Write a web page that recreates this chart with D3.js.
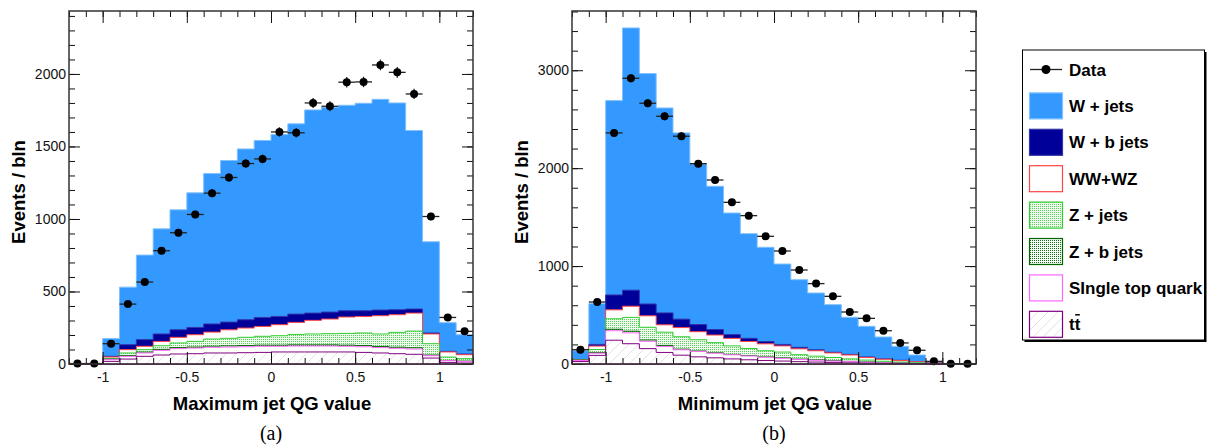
<!DOCTYPE html>
<html lang="en">
<head>
<meta charset="UTF-8">
<title>Jet QG value distributions</title>
<script src="https://d3js.org/d3.v7.min.js"></script>
<style>
  body { margin: 0; background: #fff; }
  svg { display: block; font-family: "Liberation Sans", Arial, Helvetica, sans-serif; }
  .tick text { font-size: 14px; fill: #111; }
  .tick line { stroke: #111; stroke-width: 1; }
  .title { font-weight: bold; font-size: 18.5px; fill: #000; }
  .caption { font-family: "Liberation Serif", "Times New Roman", serif; font-size: 20px; fill: #000; }
  .leg text { font-weight: bold; font-size: 17px; fill: #000; }
</style>
</head>
<body>
<svg id="chart" width="1211" height="446"></svg>
<script>
// bin lower edges, bin width 0.1
const binLow = [-1.2, -1.1, -1.0, -0.9, -0.8, -0.7, -0.6, -0.5, -0.4, -0.3, -0.2, -0.1,
                0.0, 0.1, 0.2, 0.3, 0.4, 0.5, 0.6, 0.7, 0.8, 0.9, 1.0, 1.1];
const binWidth = 0.1;

// (a) maximum jet QG value
const maxData       = [3, 3, 140, 413, 565, 781, 905, 1031, 1178, 1286, 1382, 1414, 1600, 1594, 1800, 1777, 1943, 1945, 2062, 2011, 1862, 1017, 321, 225];
const maxWJets      = [0, 0, 122, 397, 583, 725, 827, 928, 1037, 1114, 1178, 1220, 1254, 1312, 1401, 1412, 1417, 1431, 1453, 1426, 1231, 629, 198, 133];
const maxWbJets     = [0, 0, 5, 34, 46, 51, 52, 50, 56, 53, 57, 62, 57, 57, 50, 48, 43, 39, 39, 34, 28, 7, 4, 5];
const maxDiboson    = [0, 0, 11, 23, 23, 30, 39, 46, 48, 59, 64, 68, 76, 83, 94, 101, 113, 114, 126, 122, 124, 67, 35, 27];
const maxZJets      = [0, 0, 4, 18, 17, 25, 32, 39, 49, 52, 57, 61, 65, 72, 75, 77, 81, 87, 86, 102, 115, 78, 23, 17];
const maxZbJets     = [0, 0, 3, 5, 6, 7, 7, 7, 8, 8, 8, 8, 8, 8, 8, 8, 8, 8, 8, 8, 9, 5, 2, 2];
const maxSingleTop  = [0, 0, 12, 19, 23, 32, 37, 39, 39, 41, 41, 42, 39, 41, 41, 41, 39, 39, 37, 37, 36, 16, 12, 11];
const maxTtbar      = [0, 0, 18, 34, 53, 62, 69, 71, 76, 76, 78, 80, 83, 83, 83, 83, 83, 80, 76, 71, 67, 41, 11, 7];

// (b) minimum jet QG value
const minData       = [146, 633, 2360, 2918, 2663, 2530, 2326, 2046, 1879, 1651, 1515, 1304, 1154, 960, 821, 691, 531, 466, 340, 215, 140, 27, 3, 2];
const minWJets      = [91, 416, 1985, 2678, 2353, 2093, 1902, 1640, 1463, 1242, 1069, 962, 821, 691, 580, 486, 379, 313, 224, 142, 67, 4, 1, 1];
const minWbJets     = [3, 17, 152, 164, 121, 122, 86, 73, 56, 38, 32, 24, 15, 15, 10, 7, 6, 5, 4, 3, 3, 1, 1, 1];
const minDiboson    = [2, 35, 91, 114, 117, 75, 94, 82, 78, 77, 72, 71, 63, 60, 55, 47, 40, 27, 20, 15, 10, 4, 2, 1];
const minZJets      = [3, 32, 107, 141, 130, 135, 126, 115, 103, 87, 73, 63, 60, 45, 38, 32, 25, 20, 14, 10, 6, 2, 1, 0];
const minZbJets     = [2, 6, 15, 17, 13, 12, 7, 6, 5, 4, 3, 4, 4, 4, 4, 4, 3, 2, 2, 2, 1, 1, 0, 1];
const minSingleTop  = [10, 22, 97, 111, 75, 60, 55, 54, 47, 42, 39, 32, 28, 22, 18, 14, 12, 9, 6, 4, 3, 1, 1, 0];
const minTtbar      = [25, 88, 243, 207, 157, 118, 90, 73, 63, 52, 43, 36, 30, 24, 20, 16, 12, 9, 6, 4, 2, 1, 0, 0];

const xTickLabels = [-1, -0.5, 0, 0.5, 1];
const maxYTicks = [0, 500, 1000, 1500, 2000];
const minYTicks = [0, 1000, 2000, 3000];

// stack order, bottom to top
const samples = [
  { key: "ttbar",     label: "tt",               fill: "url(#hatch)",   stroke: "#800080" },
  { key: "singleTop", label: "SIngle top quark", fill: "#ffffff",       stroke: "#ff66ff" },
  { key: "zbJets",    label: "Z + b jets",       fill: "url(#dotsDark)", stroke: "#006600" },
  { key: "zJets",     label: "Z + jets",         fill: "url(#dotsLight)", stroke: "#33cc33" },
  { key: "diboson",   label: "WW+WZ",            fill: "#ffffff",       stroke: "#ff4444" },
  { key: "wbJets",    label: "W + b jets",       fill: "#000099",       stroke: "#3333aa" },
  { key: "wJets",     label: "W + jets",         fill: "#3399ff",       stroke: "#80c0ff" }
];

const svg = d3.select("#chart");
const defs = svg.append("defs");

// fill patterns (ROOT style)
const hatch = defs.append("pattern").attr("id", "hatch")
  .attr("patternUnits", "userSpaceOnUse").attr("width", 10).attr("height", 10);
hatch.append("rect").attr("width", 10).attr("height", 10).attr("fill", "#fff");
hatch.append("path").attr("d", "M0,10 L10,0 M-2,2 L2,-2 M8,12 L12,8")
  .attr("stroke", "#e0d8e0").attr("stroke-width", 0.8);

function dots(id, bg, color) {
  const p = defs.append("pattern").attr("id", id)
    .attr("patternUnits", "userSpaceOnUse").attr("width", 2).attr("height", 2);
  p.append("rect").attr("width", 2).attr("height", 2).attr("fill", bg);
  p.append("rect").attr("x", 0).attr("y", 0).attr("width", 1).attr("height", 1).attr("fill", color);
}
dots("dotsLight", "#f0fbf0", "#55d055");
dots("dotsDark", "#f4faf4", "#1a6e1a");

const lumiScale = 1.5; // data errors: Poisson on raw counts

function drawPanel(cfg) {
  const g = svg.append("g").attr("transform", `translate(${cfg.left},${cfg.top})`);
  const w = cfg.width, h = cfg.height;

  const x = d3.scaleLinear().domain([-1.2, 1.2]).range([0, w]);
  const y = d3.scaleLinear().domain([0, cfg.yMax]).range([h, 0]);

  const rows = binLow.map((lo, i) => {
    const r = { lo: lo };
    samples.forEach(s => { r[s.key] = cfg.mc[s.key][i]; });
    return r;
  });
  const stacked = d3.stack().keys(samples.map(s => s.key))(rows);

  const area = d3.area()
    .curve(d3.curveStepAfter)
    .x(d => x(d.lo))
    .y0(y(0))
    .y1(d => y(d.top));

  // ROOT-style THStack: cumulative histograms drawn from the top down
  for (let k = stacked.length - 1; k >= 0; k--) {
    const layer = stacked[k];
    const pts = layer.map((d, i) => ({ lo: binLow[i], top: d[1] }));
    pts.push({ lo: binLow[binLow.length - 1] + binWidth, top: layer[layer.length - 1][1] });
    g.append("path")
      .datum(pts)
      .attr("d", area)
      .attr("fill", samples[k].fill)
      .attr("stroke", samples[k].stroke)
      .attr("stroke-width", 1);
  }

  // data points
  const pts = g.append("g");
  cfg.data.forEach((v, i) => {
    const cx = x(binLow[i] + binWidth / 2);
    const err = Math.sqrt(v / lumiScale);
    pts.append("line")
      .attr("x1", x(binLow[i])).attr("x2", x(binLow[i] + binWidth))
      .attr("y1", y(v)).attr("y2", y(v))
      .attr("stroke", "#222").attr("stroke-width", 1.3);
    pts.append("line")
      .attr("x1", cx).attr("x2", cx)
      .attr("y1", y(v + err)).attr("y2", y(Math.max(0, v - err)))
      .attr("stroke", "#222").attr("stroke-width", 1.3);
    pts.append("circle")
      .attr("cx", cx).attr("cy", y(v)).attr("r", 4)
      .attr("fill", "#000");
  });

  // axes with inward ticks on all four sides
  const xMinor = x.ticks(24);
  const yMinor = d3.range(0, cfg.yMax, cfg.yMinorStep);

  g.append("g").attr("transform", `translate(0,${h})`)
    .call(d3.axisBottom(x).tickValues(xMinor).tickSize(-6).tickFormat(""));
  g.append("g").attr("transform", `translate(0,${h})`)
    .call(d3.axisBottom(x).tickValues(xTickLabels).tickSize(-12).tickPadding(8)
      .tickFormat(d => String(d)));
  g.append("g")
    .call(d3.axisTop(x).tickValues(xMinor).tickSize(-6).tickFormat(""));
  g.append("g")
    .call(d3.axisTop(x).tickValues(xTickLabels).tickSize(-12).tickFormat(""));

  g.append("g")
    .call(d3.axisLeft(y).tickValues(yMinor).tickSize(-6).tickFormat(""));
  g.append("g")
    .call(d3.axisLeft(y).tickValues(cfg.yTicks).tickSize(-11).tickPadding(3)
      .tickFormat(d => String(d)));
  g.append("g").attr("transform", `translate(${w},0)`)
    .call(d3.axisRight(y).tickValues(yMinor).tickSize(-6).tickFormat(""));
  g.append("g").attr("transform", `translate(${w},0)`)
    .call(d3.axisRight(y).tickValues(cfg.yTicks).tickSize(-11).tickFormat(""));

  g.selectAll(".domain").remove();

  g.append("rect")
    .attr("width", w).attr("height", h)
    .attr("fill", "none").attr("stroke", "#333").attr("stroke-width", 1.5);

  // titles
  svg.append("text").attr("class", "title")
    .attr("transform", `translate(${cfg.left - 44.5},${cfg.top + 181}) rotate(-90)`)
    .attr("text-anchor", "middle")
    .text("Events / bln");
  svg.append("text").attr("class", "title")
    .attr("x", cfg.left + w / 2 + 1).attr("y", 410)
    .attr("text-anchor", "middle")
    .text(cfg.xTitle);
  svg.append("text").attr("class", "caption")
    .attr("x", cfg.left + w / 2).attr("y", 440)
    .attr("text-anchor", "middle")
    .text(cfg.caption);
}

drawPanel({
  left: 69, top: 11, width: 404, height: 353, yMax: 2434, yMinorStep: 100,
  yTicks: maxYTicks, xTitle: "Maximum jet QG value", caption: "(a)",
  data: maxData,
  mc: { ttbar: maxTtbar, singleTop: maxSingleTop, zbJets: maxZbJets, zJets: maxZJets,
        diboson: maxDiboson, wbJets: maxWbJets, wJets: maxWJets }
});

drawPanel({
  left: 572, top: 11, width: 404, height: 353, yMax: 3605, yMinorStep: 200,
  yTicks: minYTicks, xTitle: "Minimum jet QG value", caption: "(b)",
  data: minData,
  mc: { ttbar: minTtbar, singleTop: minSingleTop, zbJets: minZbJets, zJets: minZJets,
        diboson: minDiboson, wbJets: minWbJets, wJets: minWJets }
});

// legend
const leg = svg.append("g").attr("class", "leg");
leg.append("rect").attr("x", 1024.5).attr("y", 52).attr("width", 182).attr("height", 290).attr("fill", "#000");
leg.append("rect").attr("x", 1022.5).attr("y", 50).attr("width", 182).attr("height", 290)
  .attr("fill", "#fff").attr("stroke", "#000").attr("stroke-width", 1);

const rowY = i => 69.5 + 36.4 * i;
const entries = [{ label: "Data", data: true }].concat(samples.slice().reverse());

entries.forEach((e, i) => {
  const cy = rowY(i);
  if (e.data) {
    leg.append("line").attr("x1", 1030).attr("x2", 1062).attr("y1", cy).attr("y2", cy)
      .attr("stroke", "#222").attr("stroke-width", 1.3);
    leg.append("circle").attr("cx", 1046).attr("cy", cy).attr("r", 4.5).attr("fill", "#000");
  } else {
    leg.append("rect").attr("x", 1029.5).attr("y", cy - 13).attr("width", 33).attr("height", 26)
      .attr("fill", e.fill).attr("stroke", e.stroke).attr("stroke-width", 1.2);
  }
  const t = leg.append("text").attr("x", 1069).attr("y", cy).attr("dy", "0.36em").text(e.label);
  if (e.key === "ttbar") {
    // bar over the second t
    const full = t.node().getComputedTextLength();
    const one = t.node().getSubStringLength(0, 1);
    leg.append("line")
      .attr("x1", 1069 + one + 0.5).attr("x2", 1069 + full - 0.5)
      .attr("y1", cy - 9.5).attr("y2", cy - 9.5)
      .attr("stroke", "#000").attr("stroke-width", 1.5);
  }
});
</script>
</body>
</html>
